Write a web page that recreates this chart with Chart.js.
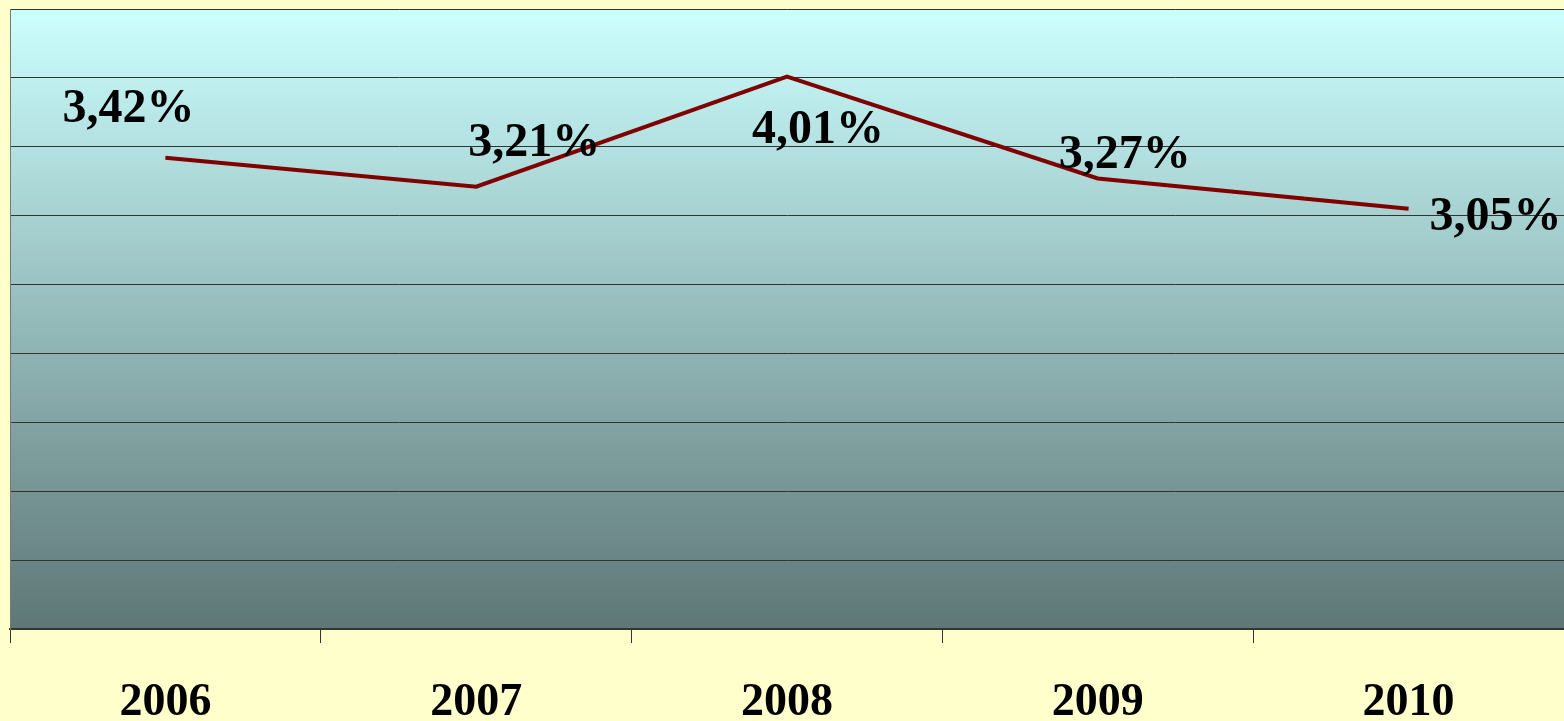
<!DOCTYPE html>
<html>
<head>
<meta charset="utf-8">
<script src="https://cdn.jsdelivr.net/npm/chart.js@4"></script>
<style>
  html, body { margin: 0; padding: 0; background: #ffffcc; }
  canvas { display: block; }
</style>
</head>
<body>
<canvas id="chart" width="1564" height="721"></canvas>
<script>
// years and rate values
const years = ["2006", "2007", "2008", "2009", "2010"];
const rates = [3.42, 3.21, 4.01, 3.27, 3.05];
const rateLabels = ["3,42%", "3,21%", "4,01%", "3,27%", "3,05%"];

//offsets of each value label from its point (pixels)
const labelShift = [[-37, -48], [58, -43], [31, 54], [27, -23], [87, 9]];

//fill the plot area with the cyan to slate gradient
const plotBackground = {
  id: "plotBackground",
  beforeDraw(chart) {
    const { ctx, chartArea: a } = chart;
    const g = ctx.createLinearGradient(0, a.top, 0, a.bottom);
    g.addColorStop(0, "#ccffff");
    g.addColorStop(1, "#5e7676");
    ctx.save();
    ctx.fillStyle = g;
    ctx.fillRect(a.left, a.top, a.right - a.left, a.bottom - a.top);
    ctx.restore();
  },
};

//draw the percent labels next to the points
const valueLabels = {
  id: "valueLabels",
  afterDatasetsDraw(chart) {
    const { ctx } = chart;
    const meta = chart.getDatasetMeta(0);
    ctx.save();
    ctx.font = "bold 48px 'Liberation Serif'";
    ctx.fillStyle = "#000000";
    ctx.textAlign = "center";
    ctx.textBaseline = "middle";
    meta.data.forEach((pt, i) => {
      ctx.fillText(rateLabels[i], pt.x + labelShift[i][0], pt.y + labelShift[i][1]);
    });
    ctx.restore();
  },
};

new Chart(document.getElementById("chart"), {
  type: "line",
  data: {
    labels: years,
    datasets: [
      {
        data: rates,
        borderColor: "#800000",
        borderWidth: 4,
        pointRadius: 0,
        tension: 0,
      },
    ],
  },
  options: {
    responsive: false,
    animation: false,
    layout: { padding: { left: 10, top: 9, right: 0, bottom: 0 } },
    plugins: {
      legend: { display: false },
      tooltip: { enabled: false },
    },
    scales: {
      x: {
        offset: true,
        grid: {
          offset: true,
          drawOnChartArea: false,
          tickLength: 14,
          color: "#333333",
        },
        border: { color: "#333333", width: 2 },
        ticks: {
          color: "#000000",
          padding: 33,
          maxRotation: 0,
          font: { family: "'Liberation Serif'", size: 46, weight: "bold" },
        },
        afterFit: (s) => { s.height = 92; },
      },
      y: {
        min: 0,
        max: 4.5,
        ticks: { display: false, stepSize: 0.5 },
        grid: { color: "#333333", drawTicks: false },
        border: { color: "#777777" },
        afterFit: (s) => { s.width = 0; },
      },
    },
  },
  plugins: [plotBackground, valueLabels],
});
</script>
</body>
</html>
